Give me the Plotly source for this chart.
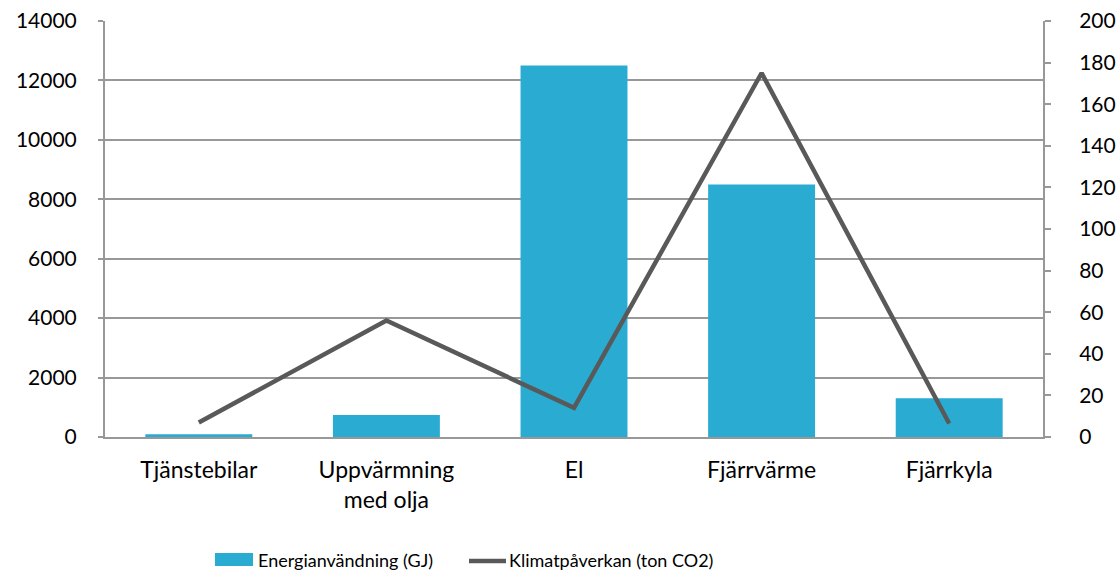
import plotly.graph_objects as go

categories = ["Tjänstebilar", "Uppvärmning<br>med olja", "El", "Fjärrvärme", "Fjärrkyla"]
energi_gj = [90, 740, 12500, 8500, 1300]
klimat_ton = [7, 56, 14, 175, 6.5]
legend_names = ["Energianvändning (GJ)", "Klimatpåverkan (ton CO2)"]

BAR_COLOR = "#2AABD2"
LINE_COLOR = "#595959"
AXIS_COLOR = "#989898"
FONT_FAMILY = "Lato"

L, R, T, B = 105, 75, 21, 143
W, H = 1118, 580
PW, PH = W - L - R, H - T - B


def px_x(px):
    return (px - L) / PW


def px_y(py):
    return (H - B - py) / PH


fig = go.Figure()
fig.add_trace(go.Bar(x=categories, y=energi_gj, name=legend_names[0],
                     marker=dict(color=BAR_COLOR, line=dict(width=0)), yaxis="y"))
fig.add_trace(go.Scatter(x=categories, y=klimat_ton, name=legend_names[1],
                         mode="lines", line=dict(color=LINE_COLOR, width=4.5), yaxis="y2"))

font = dict(family=FONT_FAMILY, size=21, color="#000000")
xfont = dict(family=FONT_FAMILY, size=23, color="#000000")
lfont = dict(family=FONT_FAMILY, size=18, color="#000000")

# manual legend (wide rectangle swatch as in reference)
shapes = [
    dict(type="rect", xref="paper", yref="paper", x0=px_x(215), x1=px_x(253),
         y0=px_y(566), y1=px_y(553), fillcolor=BAR_COLOR, line=dict(width=0)),
    dict(type="line", xref="paper", yref="paper", x0=px_x(469), x1=px_x(506),
         y0=px_y(561), y1=px_y(561), line=dict(color=LINE_COLOR, width=4.5)),
]
annotations = [
    dict(text=legend_names[0], xref="paper", yref="paper", x=px_x(256), y=px_y(560),
         xanchor="left", yanchor="middle", showarrow=False, font=lfont),
    dict(text=legend_names[1], xref="paper", yref="paper", x=px_x(507), y=px_y(560),
         xanchor="left", yanchor="middle", showarrow=False, font=lfont),
]

fig.update_layout(
    width=W, height=H,
    margin=dict(l=L, r=R, t=T, b=B, autoexpand=False),
    paper_bgcolor="white", plot_bgcolor="white",
    font=font,
    bargap=0.43,
    showlegend=False,
    shapes=shapes,
    annotations=annotations,
    xaxis=dict(showline=True, linecolor=AXIS_COLOR, linewidth=2, ticks="", tickfont=xfont,
               showgrid=False, automargin=False, ticklabelstandoff=11),
    yaxis=dict(range=[0, 14000], dtick=2000, tickformat="d", showline=True,
               linecolor=AXIS_COLOR, linewidth=2,
               ticks="outside", ticklen=5, tickcolor=AXIS_COLOR, tickwidth=2, showgrid=True,
               gridcolor=AXIS_COLOR, gridwidth=2, zeroline=False, tickfont=font,
               automargin=False, ticklabelstandoff=17),
    yaxis2=dict(range=[0, 200], dtick=20, overlaying="y", side="right", showline=True,
                linecolor=AXIS_COLOR, linewidth=2, ticks="outside", ticklen=6, tickwidth=2,
                tickcolor=AXIS_COLOR, showgrid=False, zeroline=False, tickfont=font,
                automargin=False, ticklabelstandoff=24),
)
fig.write_html("out.html", config={"displayModeBar": False},
               post_script="document.body.style.margin='0px';")
